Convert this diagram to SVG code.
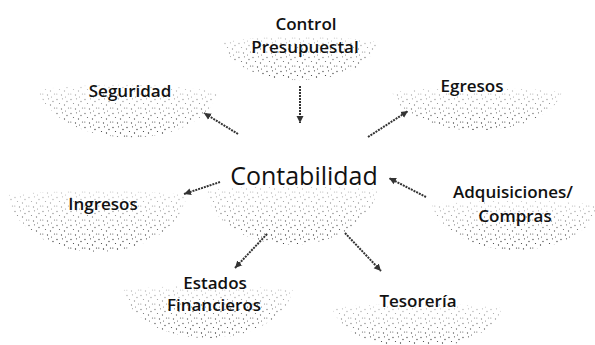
<svg xmlns="http://www.w3.org/2000/svg" width="595" height="345" viewBox="0 0 595 345">
<style>
.lbl{font-family:"Open Sans","Noto Sans","DejaVu Sans",sans-serif;font-size:17px;font-weight:600;fill:#111;text-anchor:middle}
.main{font-size:25px;font-weight:500}
.cloud{fill:url(#stip);mask:url(#fade)}
.con{stroke:#333;stroke-width:2;stroke-dasharray:2 1;fill:none;marker-end:url(#ah)}
</style>
<defs>
<pattern id="stip" patternUnits="userSpaceOnUse" width="14" height="14">
<g fill="#222">
<circle cx="1" cy="1.5" r="0.65"/><circle cx="6.5" cy="0.8" r="0.6"/><circle cx="11" cy="3.5" r="0.65"/>
<circle cx="3.5" cy="5.5" r="0.6"/><circle cx="8.5" cy="7" r="0.65"/><circle cx="0.8" cy="10" r="0.6"/>
<circle cx="5.5" cy="11" r="0.65"/><circle cx="12.5" cy="10" r="0.6"/><circle cx="9.5" cy="13" r="0.55"/>
</g>
</pattern>
<linearGradient id="g" x1="0" y1="0" x2="0" y2="1">
<stop offset="0" stop-color="#fff" stop-opacity="0.25"/>
<stop offset="1" stop-color="#fff" stop-opacity="1"/>
</linearGradient>
<mask id="fade" maskContentUnits="objectBoundingBox">
<rect width="1" height="1" fill="url(#g)"/>
</mask>
<marker id="ah" markerUnits="userSpaceOnUse" markerWidth="8" markerHeight="8" refX="7" refY="4" orient="auto">
<path d="M0,0.5 L7,4 L0,7.5 Z" fill="#333"/>
</marker>
</defs>
<g id="control">
<path class="cloud" d="M222,42 C236,93 364,93 378,42 Q300,30 222,42 Z"/>
<text class="lbl" x="306" y="30">Control</text>
<text class="lbl" x="305" y="53">Presupuestal</text>
</g>
<g id="seguridad">
<path class="cloud" d="M38,90 C60,153 200,153 218,92 Q130,78 38,90 Z"/>
<text class="lbl" x="130" y="97">Seguridad</text>
</g>
<g id="egresos">
<path class="cloud" d="M392,92 C410,143 545,143 562,92 Q477,82 392,92 Z"/>
<text class="lbl" x="472" y="92">Egresos</text>
</g>
<g id="contabilidad">
<path class="cloud" d="M205,190 C222,263 360,263 378,190 Q292,182 205,190 Z"/>
<text class="lbl main" x="304" y="185">Contabilidad</text>
</g>
<g id="ingresos">
<path class="cloud" d="M7,195 C25,271 170,271 187,195 Q97,186 7,195 Z"/>
<text class="lbl" x="103" y="210">Ingresos</text>
</g>
<g id="adquisiciones">
<path class="cloud" d="M432,205 C450,265 582,265 600,205 Q516,196 432,205 Z"/>
<text class="lbl" x="513" y="198">Adquisiciones/</text>
<text class="lbl" x="515" y="222">Compras</text>
</g>
<g id="estados">
<path class="cloud" d="M122,290 C140,354 276,354 293,290 Q207,281 122,290 Z"/>
<text class="lbl" x="215" y="289">Estados</text>
<text class="lbl" x="214" y="311">Financieros</text>
</g>
<g id="tesoreria">
<path class="cloud" d="M332,308 C350,362 485,362 502,308 Q417,299 332,308 Z"/>
<text class="lbl" x="418" y="307">Tesorería</text>
</g>
<g id="connectors">
<line class="con" x1="238" y1="134" x2="204" y2="113"/>
<line class="con" x1="300" y1="86" x2="300" y2="123"/>
<line class="con" x1="368" y1="137" x2="408" y2="111"/>
<line class="con" x1="220" y1="182" x2="184" y2="194"/>
<line class="con" x1="426" y1="197" x2="389" y2="178"/>
<line class="con" x1="267" y1="234" x2="235" y2="268"/>
<line class="con" x1="345" y1="233" x2="381" y2="271"/>
</g>
</svg>
